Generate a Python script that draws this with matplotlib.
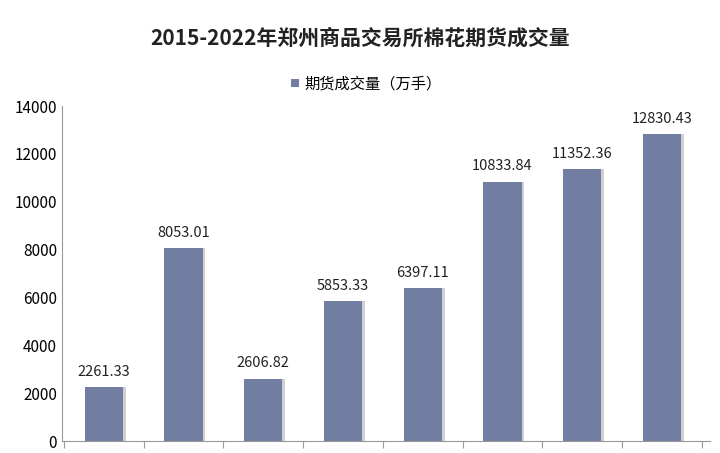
import matplotlib
matplotlib.use("Agg")
import matplotlib.pyplot as plt
import numpy as np

plt.rcParams['font.family'] = ['Noto Sans CJK SC', 'DejaVu Sans']

years = ['2015', '2016', '2017', '2018', '2019', '2020', '2021', '2022']
values = [2261.33, 8053.01, 2606.82, 5853.33, 6397.11, 10833.84, 11352.36, 12830.43]

fig = plt.figure(figsize=(7.2, 4.53), dpi=100)
ax = fig.add_axes([0.086, 0.026, 0.9, 0.74])
x = np.arange(len(years))
ax.bar(x + 0.035, values, width=0.48, color='#d0d0d0', zorder=1)
bars = ax.bar(x, values, width=0.48, color='#717EA1', zorder=2, label='期货成交量（万手）')
for xi, v in zip(x, values):
    ax.text(xi, v + 350, f'{v:.2f}', ha='center', va='bottom', fontsize=10.5, color='#222222')
ax.set_ylim(0, 14000)
ax.set_yticks(range(0, 14001, 2000))
ax.set_xlim(-0.525, 7.6)
ax.set_xticks(np.arange(-0.5, 8, 1))
ax.set_xticklabels([])
ax.tick_params(axis='x', length=5, color='#999999')
ax.tick_params(axis='y', length=0, labelsize=11)
for s in ['top', 'right']:
    ax.spines[s].set_visible(False)
ax.spines['left'].set_color('#999999')
ax.spines['bottom'].set_color('#999999')
fig.text(0.5, 0.916, '2015-2022年郑州商品交易所棉花期货成交量', ha='center', va='center',
         fontsize=15, fontweight='bold', color='#222222')
ax.legend(handles=[bars], loc='center', bbox_to_anchor=(0.47, 1.066), frameon=False,
          fontsize=11, handlelength=0.5, handleheight=0.5, handletextpad=0.4)
fig.savefig('out.png', dpi=100)
